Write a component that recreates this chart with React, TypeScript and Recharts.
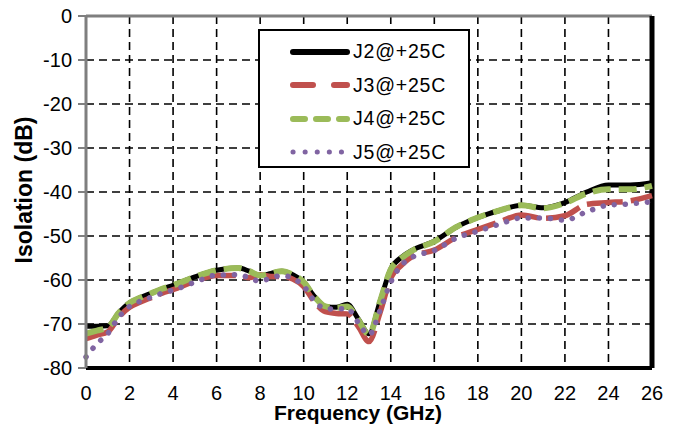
import React from 'react';
import { LineChart, Line, XAxis, YAxis, CartesianGrid, ReferenceLine, Legend, Label } from 'recharts';

const freq = [0, 0.5, 1, 1.5, 2, 2.5, 3, 3.5, 4, 5, 6, 7, 7.5, 8, 8.5, 9, 9.5, 10, 10.5, 11, 11.5, 12, 12.5, 13, 13.5, 14, 14.5, 15, 16, 17, 18, 19, 20, 21, 22, 23, 24, 25, 26];
const j2 = [-70.5, -70.5, -70.4, -67.5, -65.2, -64, -63, -62, -61.2, -59.3, -57.8, -57.3, -58, -59, -58.5, -58, -58.8, -60.5, -63.8, -66, -66.2, -65.5, -68.8, -72.2, -65, -57.5, -54.8, -53.2, -51.2, -48, -45.8, -44.2, -43, -43.6, -42.4, -40, -38.4, -38.4, -37.9];
const j3 = [-73.3, -72.5, -71.8, -68.5, -66.2, -65, -64, -63, -62.2, -60.3, -59, -59, -59.5, -58.8, -59.2, -59.2, -59.8, -61.5, -65, -67.2, -67.6, -67.7, -70.5, -74, -67.5, -59.5, -56.6, -54.6, -53.2, -50.3, -48.5, -46.8, -45.2, -46, -45.4, -42.8, -42.4, -42, -40.8];
const j4 = [-72.2, -71.5, -70.8, -67.5, -65.2, -64, -63, -62, -61.2, -59.3, -57.8, -57.3, -58, -59, -58.5, -58, -58.8, -60.5, -63.8, -66, -66.3, -66, -69, -72.4, -65, -57.6, -55, -53.3, -51.3, -48, -45.8, -44.2, -43, -43.7, -42.5, -40.3, -39.4, -39.4, -38.6];
const j5 = [-77.5, -74.5, -72.2, -68.5, -66, -64.8, -63.9, -63, -62.3, -60.5, -58.9, -58.8, -59.5, -60.3, -59.5, -59, -59.6, -61.4, -64.8, -66.5, -66.6, -66.5, -69.6, -72.5, -67, -60.5, -56.6, -54.8, -53.3, -50.5, -48.9, -47.3, -45.9, -45.9, -46.4, -44.5, -43, -42.7, -42.2];

const xTicks = [0, 2, 4, 6, 8, 10, 12, 14, 16, 18, 20, 22, 24, 26];
const yTicks = [-80, -70, -60, -50, -40, -30, -20, -10, 0];
const seriesNames = ['J2@+25C', 'J3@+25C', 'J4@+25C', 'J5@+25C'];

const data = freq.map((f, i) => ({ f, j2: j2[i], j3: j3[i], j4: j4[i], j5: j5[i] }));

const FONT = '"Liberation Sans", Arial, sans-serif';

const legendStyles = [
  { stroke: '#000000', strokeWidth: 6, dash: undefined as string | undefined },
  { stroke: '#C0504D', strokeWidth: 6, dash: '20 21' },
  { stroke: '#9BBB59', strokeWidth: 6, dash: '12 11' },
  { stroke: '#8064A2', strokeWidth: 5, dash: '0.1 12' },
];

const LegendBox = () => (
  <div
    style={{
      width: 212,
      height: 139,
      boxSizing: 'border-box',
      border: '2px solid #000',
      background: '#fff',
      paddingTop: 4,
      fontFamily: FONT,
    }}
  >
    {seriesNames.map((name, i) => (
      <div key={name} style={{ display: 'flex', alignItems: 'center', height: 33.5, marginLeft: 29 }}>
        <svg width={62} height={12} style={{ display: 'block' }}>
          <line
            x1={4}
            y1={6}
            x2={58}
            y2={6}
            stroke={legendStyles[i].stroke}
            strokeWidth={legendStyles[i].strokeWidth}
            strokeDasharray={legendStyles[i].dash}
            strokeLinecap="round"
          />
        </svg>
        <span style={{ fontSize: 19.5, letterSpacing: 0.8, marginLeft: 2, color: '#000' }}>{name}</span>
      </div>
    ))}
  </div>
);

export default function App() {
  return (
    <div style={{ margin: -8, width: 678, height: 432 }}>
      <LineChart
        width={678}
        height={432}
        data={data}
        margin={{ top: 16, right: 26, left: 0, bottom: 0 }}
        style={{ fontFamily: FONT }}
      >
        <CartesianGrid stroke="#000" strokeWidth={1.6} strokeDasharray="8 5" horizontalValues={yTicks} verticalValues={xTicks} />
        <XAxis
          dataKey="f"
          type="number"
          domain={[0, 26]}
          ticks={xTicks}
          interval={0}
          height={64}
          tickSize={0}
          tickMargin={18}
          tick={{ fill: '#000', fontSize: 20, fontFamily: FONT }}
          axisLine={{ stroke: '#000', strokeWidth: 4 }}
        >
          <Label
            value="Frequency (GHz)"
            position="center"
            dx={-11}
            dy={13}
            style={{ fontSize: 21, fontWeight: 'bold', fill: '#000', fontFamily: FONT }}
          />
        </XAxis>
        <YAxis
          type="number"
          domain={[-80, 0]}
          ticks={yTicks}
          interval={0}
          width={86}
          tickSize={8}
          tickMargin={6}
          tick={{ fill: '#000', fontSize: 20, fontFamily: FONT }}
          tickLine={{ stroke: '#7f7f7f', strokeWidth: 2 }}
          axisLine={{ stroke: '#7f7f7f', strokeWidth: 3 }}
        >
          <Label
            value="Isolation (dB)"
            position="center"
            angle={-90}
            dx={-19}
            dy={-2}
            style={{ fontSize: 23, fontWeight: 'bold', fill: '#000', fontFamily: FONT, textAnchor: 'middle' }}
          />
        </YAxis>
        <ReferenceLine y={0} stroke="#7f7f7f" strokeWidth={3} />
        <ReferenceLine x={26} stroke="#000" strokeWidth={5} />
        <Line type="monotone" dataKey="j2" name={seriesNames[0]} stroke="#000000" strokeWidth={5} dot={false} isAnimationActive={false} />
        <Line type="monotone" dataKey="j3" name={seriesNames[1]} stroke="#C0504D" strokeWidth={5.5} strokeDasharray="36 8" dot={false} isAnimationActive={false} />
        <Line type="monotone" dataKey="j4" name={seriesNames[2]} stroke="#9BBB59" strokeWidth={6} strokeDasharray="18 8" dot={false} isAnimationActive={false} />
        <Line type="monotone" dataKey="j5" name={seriesNames[3]} stroke="#8064A2" strokeWidth={5.5} strokeDasharray="0.1 11" strokeLinecap="round" dot={false} isAnimationActive={false} />
        <Legend
          layout="horizontal"
          verticalAlign="middle"
          align="center"
          content={() => <LegendBox />}
          wrapperStyle={{ position: 'absolute', left: 258, top: 29, width: 212, height: 139 }}
        />
      </LineChart>
    </div>
  );
}
